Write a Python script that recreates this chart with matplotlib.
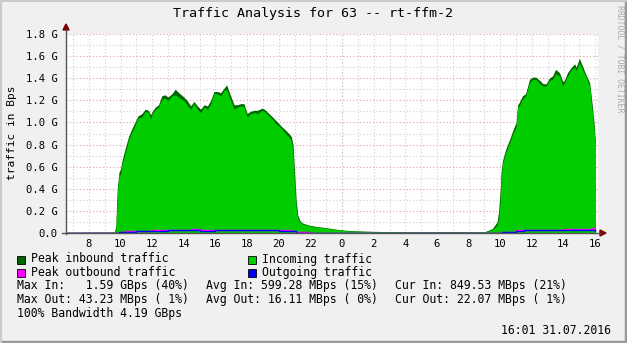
"""
Traffic analysis graph (rrdtool style) for rt-ffm-2, redrawn with matplotlib.
"""

import matplotlib.pyplot as plt
from matplotlib.patches import Rectangle
from matplotlib.lines import Line2D
import matplotlib.ticker as mticker

W, H = 627, 343

# hours since midnight of day 1 (day 2 = 24 + h), values in GBps
t_in = [6.55, 7.0, 8.0, 9.0, 9.6, 9.7, 9.75, 9.8, 9.9, 10.0,
        10.1, 10.3, 10.5, 10.7, 10.9, 11.1, 11.35, 11.55, 11.75, 11.9,
        12.0, 12.2, 12.4, 12.6, 12.8, 13.0, 13.25, 13.45, 13.75, 14.0,
        14.2, 14.43, 14.64, 14.85, 15.06, 15.28, 15.49, 15.7, 15.9, 16.1,
        16.33, 16.54, 16.7, 16.96, 17.17, 17.38, 17.59, 17.8, 18.0, 18.2,
        18.43, 18.64, 18.96, 19.17, 19.38, 19.6, 19.8, 20.0, 20.2, 20.43,
        20.64, 20.8, 20.9, 21.0, 21.1, 21.2, 21.35, 21.5, 21.9, 22.35,
        22.8, 23.2, 23.8, 24.5, 25.1, 26.0, 27.0, 29.0, 31.0, 33.0,
        33.5, 33.8, 33.9, 34.0, 34.05, 34.15, 34.35, 34.6, 34.8, 35.0,
        35.1, 35.2, 35.4, 35.6, 35.85, 36.05, 36.25, 36.5, 36.7, 36.9,
        37.1, 37.3, 37.5, 37.75, 37.95, 38.05, 38.25, 38.5, 38.7, 38.8,
        39.0, 39.2, 39.4, 39.65, 39.8, 39.93, 40.0, 40.02]
incoming = [0.004, 0.004, 0.005, 0.005, 0.006, 0.03, 0.20, 0.37, 0.52, 0.53,
            0.63, 0.73, 0.84, 0.91, 0.97, 1.04, 1.05, 1.10, 1.09, 1.03,
            1.08, 1.12, 1.14, 1.21, 1.22, 1.20, 1.24, 1.25, 1.22, 1.20,
            1.16, 1.12, 1.17, 1.12, 1.09, 1.14, 1.12, 1.17, 1.26, 1.26,
            1.24, 1.29, 1.30, 1.20, 1.12, 1.14, 1.15, 1.14, 1.05, 1.08,
            1.09, 1.08, 1.11, 1.09, 1.06, 1.03, 0.99, 0.97, 0.94, 0.90,
            0.87, 0.84, 0.71, 0.43, 0.22, 0.13, 0.10, 0.081, 0.066, 0.054,
            0.048, 0.039, 0.027, 0.018, 0.015, 0.012, 0.009, 0.008, 0.008, 0.008,
            0.03, 0.07, 0.13, 0.28, 0.49, 0.63, 0.73, 0.82, 0.90, 0.96,
            1.14, 1.15, 1.21, 1.24, 1.36, 1.39, 1.39, 1.35, 1.33, 1.33,
            1.38, 1.39, 1.44, 1.42, 1.33, 1.36, 1.42, 1.48, 1.50, 1.47,
            1.54, 1.48, 1.42, 1.33, 1.12, 0.94, 0.82, 0.82]
peak_in = [0.008, 0.008, 0.009, 0.009, 0.010, 0.06, 0.28, 0.42, 0.55, 0.58,
           0.66, 0.77, 0.87, 0.94, 1.00, 1.06, 1.08, 1.12, 1.11, 1.07,
           1.10, 1.14, 1.16, 1.24, 1.25, 1.23, 1.26, 1.30, 1.26, 1.23,
           1.20, 1.15, 1.19, 1.15, 1.12, 1.16, 1.15, 1.20, 1.28, 1.28,
           1.27, 1.31, 1.34, 1.24, 1.16, 1.16, 1.17, 1.17, 1.08, 1.10,
           1.11, 1.11, 1.13, 1.11, 1.08, 1.05, 1.02, 0.99, 0.96, 0.93,
           0.90, 0.87, 0.80, 0.55, 0.30, 0.16, 0.11, 0.09, 0.072, 0.06,
           0.052, 0.044, 0.031, 0.022, 0.019, 0.015, 0.012, 0.011, 0.012, 0.011,
           0.04, 0.10, 0.20, 0.40, 0.55, 0.66, 0.76, 0.85, 0.93, 1.00,
           1.16, 1.18, 1.24, 1.26, 1.39, 1.41, 1.41, 1.38, 1.35, 1.35,
           1.40, 1.42, 1.48, 1.45, 1.37, 1.38, 1.45, 1.50, 1.53, 1.50,
           1.58, 1.51, 1.44, 1.36, 1.18, 1.00, 0.85, 0.85]

t_out = [6.55, 9.7, 9.9, 10.3, 11.0, 12.0, 13.0, 14.5, 15.0, 16.0, 17.0, 20.0,
         20.8, 21.1, 22.0, 33.9, 34.1, 35.0, 35.5, 38.0, 39.8, 40.0, 40.02]
outgoing = [0.002, 0.002, 0.008, 0.012, 0.020, 0.021, 0.028, 0.027, 0.022, 0.027, 0.024, 0.022,
            0.015, 0.004, 0.002, 0.002, 0.010, 0.020, 0.028, 0.029, 0.028, 0.020, 0.020]
peak_out = [0.004, 0.004, 0.010, 0.014, 0.022, 0.023, 0.030, 0.034, 0.024, 0.029, 0.026, 0.024,
            0.018, 0.006, 0.004, 0.004, 0.013, 0.030, 0.030, 0.032, 0.043, 0.024, 0.024]

x_labels_at = [8, 10, 12, 14, 16, 18, 20, 22, 24, 26, 28, 30, 32, 34, 36, 38, 40]

title = "Traffic Analysis for 63 -- rt-ffm-2"
legend_items = [("Peak inbound traffic", "#006600"), ("Incoming traffic", "#00CC00"),
                ("Peak outbound traffic", "#FF00FF"), ("Outgoing traffic", "#0000FF")]
stats_rows = [("Max In:   1.59 GBps (40%)", "Avg In: 599.28 MBps (15%)", "Cur In: 849.53 MBps (21%)"),
              ("Max Out: 43.23 MBps ( 1%)", "Avg Out: 16.11 MBps ( 0%)", "Cur Out: 22.07 MBps ( 1%)")]
bandwidth = "100% Bandwidth 4.19 GBps"
stamp = "16:01 31.07.2016"

plt.rcParams["font.family"] = "DejaVu Sans Mono"


def fx(x):
    return x / W


def fy(y):
    return 1 - y / H


fig = plt.figure(figsize=(W / 100, H / 100), dpi=100, facecolor="#F0F0F0")
ax = fig.add_axes([fx(66), fy(233), fx(598) - fx(66), fy(34) - fy(233)])
ax.set_facecolor("white")
ax.set_xlim(6.55, 40.18)
ax.set_ylim(0, 1.8)

# data: peak area underneath, average area on top
ax.fill_between(t_in, 0, peak_in, color="#006600", lw=0, zorder=2)
ax.fill_between(t_in, 0, incoming, color="#00CC00", lw=0, zorder=3)
ax.step(t_out, peak_out, where="post", color="#FF00FF", lw=1.0, zorder=4)
ax.step(t_out, outgoing, where="post", color="#0000FF", lw=1.0, zorder=5)

# grid
ax.set_axisbelow(True)
ax.set_yticks([i * 0.2 for i in range(10)])
ax.yaxis.set_minor_locator(mticker.MultipleLocator(0.1))
ax.set_xticks(x_labels_at)
ax.set_xticklabels([str(h % 24) for h in x_labels_at])
ax.xaxis.set_minor_locator(mticker.MultipleLocator(1))
ax.yaxis.set_major_formatter(mticker.FuncFormatter(lambda v, p: "0.0" if v == 0 else f"{v:.1f} G"))
dots = (0, (1, 2))
ax.grid(which="minor", color="#CFCFCF", lw=0.8, ls=dots)
ax.grid(which="major", axis="x", color="#CFCFCF", lw=0.8, ls=dots)
ax.grid(which="major", axis="y", color="#E0A0A0", lw=0.8, ls=dots)
ax.axvline(24, color="#E0A0A0", lw=0.8, ls=dots, zorder=0.5)

for s in ax.spines.values():
    s.set_visible(False)
ax.tick_params(which="both", length=0, labelsize=7.6, colors="black", pad=6)
ax.tick_params(axis="x", pad=4)

# axes with arrows
fig.add_artist(Line2D([fx(66), fx(66)], [fy(234), fy(30)], color="#555555", lw=1))
fig.add_artist(Line2D([fx(62), fx(600)], [fy(233), fy(233)], color="#555555", lw=1))
fig.add_artist(plt.Polygon([[fx(63), fy(30)], [fx(69), fy(30)], [fx(66), fy(24)]],
                           closed=True, color="#7F0000", transform=fig.transFigure))
fig.add_artist(plt.Polygon([[fx(600), fy(230)], [fx(600), fy(236)], [fx(606), fy(233)]],
                           closed=True, color="#7F0000", transform=fig.transFigure))

fig.text(fx(12), fy(133), "traffic in Bps", rotation=90, ha="center", va="center", fontsize=8)
fig.text(fx(313), fy(14), title, ha="center", va="center", fontsize=9.6)
fig.text(fx(620), fy(5), "RRDTOOL / TOBI OETIKER", rotation=270, ha="center", va="top",
         fontsize=5.9, color="#AAAAAA")

# legend
for i, (name, col) in enumerate(legend_items):
    row, colno = divmod(i, 2)
    x0 = 17 if colno == 0 else 248
    yc = 259 + row * 13.5
    fig.add_artist(Rectangle((fx(x0), fy(yc + 4.5)), fx(8), fy(0) - fy(8),
                             facecolor=col, edgecolor="black", lw=0.6, transform=fig.transFigure))
    fig.text(fx(x0 + 14), fy(yc), name, ha="left", va="center", fontsize=8.3)

for r, row in enumerate(stats_rows):
    yc = 286 + r * 14
    for x0, txt in zip([17, 206, 395], row):
        fig.text(fx(x0), fy(yc), txt, ha="left", va="center", fontsize=8.3)
fig.text(fx(17), fy(314), bandwidth, ha="left", va="center", fontsize=8.3)
fig.text(fx(611), fy(330), stamp, ha="right", va="center", fontsize=8.3)

# frame shading
fig.add_artist(Line2D([0, 1], [fy(342), fy(342)], color="#999999", lw=2.5))
fig.add_artist(Line2D([fx(626), fx(626)], [0, 1], color="#999999", lw=2.5))
fig.add_artist(Line2D([0, 1], [fy(0.5), fy(0.5)], color="#CBCBCB", lw=1.5))
fig.add_artist(Line2D([fx(0.5), fx(0.5)], [0, 1], color="#CBCBCB", lw=1.5))

plt.savefig("out.png", dpi=100, facecolor=fig.get_facecolor())
